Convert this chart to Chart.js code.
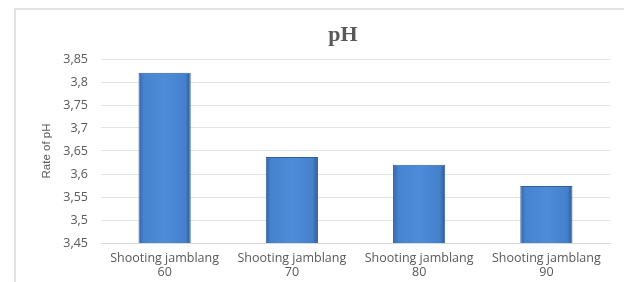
<!DOCTYPE html>
<html>
<head>
<meta charset="utf-8">
<script src="https://cdn.jsdelivr.net/npm/chart.js@4.4.0/dist/chart.umd.min.js"></script>
<style>
  body { margin: 0; background: #fff; overflow: hidden; }
  #frame { position: absolute; left: 14px; top: 8px; width: 700px; height: 400px; border: 2px solid #e2e2e2; }
  #wrap { position: absolute; left: 0; top: 0; width: 624px; height: 282px; }
</style>
</head>
<body>
<div id="frame"></div>
<div id="wrap"><canvas id="chart" width="624" height="282"></canvas></div>
<script>
// Chart data
var categories = [['Shooting jamblang', '60'], ['Shooting jamblang', '70'], ['Shooting jamblang', '80'], ['Shooting jamblang', '90']];
var phValues = [3.82, 3.637, 3.62, 3.574];
var yMin = 3.45;
var yMax = 3.85;
var yStep = 0.05;
var chartTitle = 'pH';
var yTitle = 'Rate of pH';

// Horizontal gradient across each bar
function barFill(context) {
    var meta = context.chart.getDatasetMeta(0);
    var bar = meta.data[context.dataIndex];
    if (!bar || !isFinite(bar.x) || !bar.width) {
        return '#4a86d0';
    }
    var ctx = context.chart.ctx;
    var x0 = bar.x - bar.width / 2;
    var x1 = bar.x + bar.width / 2;
    var g = ctx.createLinearGradient(x0, 0, x1, 0);
    g.addColorStop(0, '#3465a8');
    g.addColorStop(0.1, '#4683cf');
    g.addColorStop(0.5, '#4d8cd9');
    g.addColorStop(0.9, '#4580cc');
    g.addColorStop(1, '#2f5893');
    return g;
}

// Title drawn by hand so it sits where the original has it
var titlePlugin = {
    id: 'phTitle',
    afterDraw: function(chart) {
        var ctx = chart.ctx;
        ctx.save();
        ctx.font = 'bold 22px "Liberation Serif", serif';
        ctx.fillStyle = '#595959';
        ctx.textAlign = 'center';
        ctx.textBaseline = 'middle';
        ctx.fillText(chartTitle, 343, 35);
        ctx.restore();
    }
};

var ctx = document.getElementById('chart').getContext('2d');
var chart = new Chart(ctx, {
    type: 'bar',
    data: {
        labels: categories,
        datasets: [{
            data: phValues,
            backgroundColor: barFill,
            borderColor: '#2f5e9c',
            borderWidth: 1,
            barPercentage: 0.41,
            categoryPercentage: 1
        }]
    },
    options: {
        responsive: false,
        animation: false,
        layout: {
            padding: { left: 40, top: 59, right: 14, bottom: 0 }
        },
        plugins: {
            legend: { display: false },
            tooltip: { enabled: false }
        },
        scales: {
            x: {
                grid: { display: false, drawTicks: false },
                border: { color: '#d9d9d9', width: 1 },
                ticks: {
                    color: '#595959',
                    padding: 9,
                    maxRotation: 0,
                    autoSkip: false,
                    font: { family: '"Open Sans", sans-serif', size: 12.5, lineHeight: 1.1 }
                },
                afterFit: function(scale) { scale.height = 39; }
            },
            y: {
                min: yMin,
                max: yMax,
                grid: { color: '#e3e3e3', drawTicks: false },
                border: { display: false },
                ticks: {
                    stepSize: yStep,
                    color: '#595959',
                    padding: 13,
                    font: { family: '"Open Sans", sans-serif', size: 12.5 },
                    callback: function(v) {
                        return String(parseFloat(v.toFixed(2))).replace('.', ',');
                    }
                },
                title: {
                    display: true,
                    text: yTitle,
                    color: '#595959',
                    padding: 0,
                    font: { family: '"Liberation Sans Narrow", sans-serif', size: 11.5 }
                },
                afterFit: function(scale) { scale.width = 61; }
            }
        }
    },
    plugins: [titlePlugin]
});
// second pass so the bar gradients see the laid-out bars
chart.update();
</script>
</body>
</html>
